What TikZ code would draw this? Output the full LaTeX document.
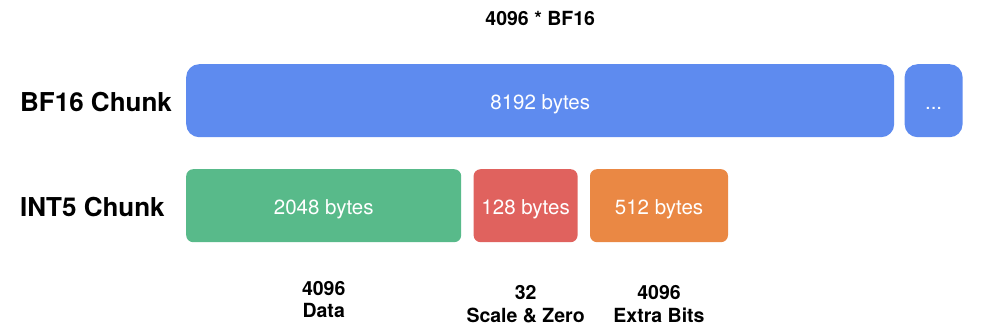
\documentclass[tikz,border=0pt]{standalone}
\usepackage{fontspec}
\setmainfont{TeX Gyre Heros}
\usetikzlibrary{positioning}
\definecolor{bfblue}{HTML}{5E8BEF}
\definecolor{datgreen}{HTML}{58BA8A}
\definecolor{scred}{HTML}{E0625E}
\definecolor{exorange}{HTML}{EA8844}

\begin{document}
\begin{tikzpicture}[
    x=1pt, y=1pt,
    node distance=12pt,
    chunk/.style={rounded corners=13pt, text=white, minimum height=73pt, inner sep=0pt,
                  text height=20pt, text depth=3pt, font=\fontsize{20.5}{24}\selectfont},
    part/.style={chunk, rounded corners=7pt},
    rowlbl/.style={anchor=west, inner sep=0pt, font=\fontsize{26}{30}\selectfont\bfseries},
    cnt/.style={align=center, inner sep=0pt, font=\fontsize{19.5}{22.6}\selectfont\bfseries},
  ]
  \useasboundingbox (0,0) rectangle (997,332);

  \node[chunk, fill=bfblue, minimum width=708pt, anchor=west] (bf)   at (186,231.3) {8192 bytes};
  \node[chunk, fill=bfblue, minimum width=58pt, right=10pt of bf] (more) {...};
  \node[cnt, above=38pt of bf]                                    (total) {4096 * BF16};

  \node[part, fill=datgreen, minimum width=275pt, anchor=west] (data) at (186,126.3) {2048 bytes};
  \node[part, fill=scred, minimum width=104pt, right=of data]     (scale) {128 bytes};
  \node[part, fill=exorange, minimum width=138pt, right=of scale] (extra) {512 bytes};

  \node[rowlbl] (bflbl)  at (20,230) {BF16 Chunk};
  \node[rowlbl] (intlbl) at (20,125) {INT5 Chunk};

  % element counts under each INT5 part
  \node[cnt, below=38.5pt of data]  (datacnt)  {4096\\Data};
  \node[cnt, below=43pt of scale]   (scalecnt) {32\\Scale \& Zero};
  \node[cnt, below=43pt of extra]   (extracnt) {4096\\Extra Bits};
\end{tikzpicture}
\end{document}
